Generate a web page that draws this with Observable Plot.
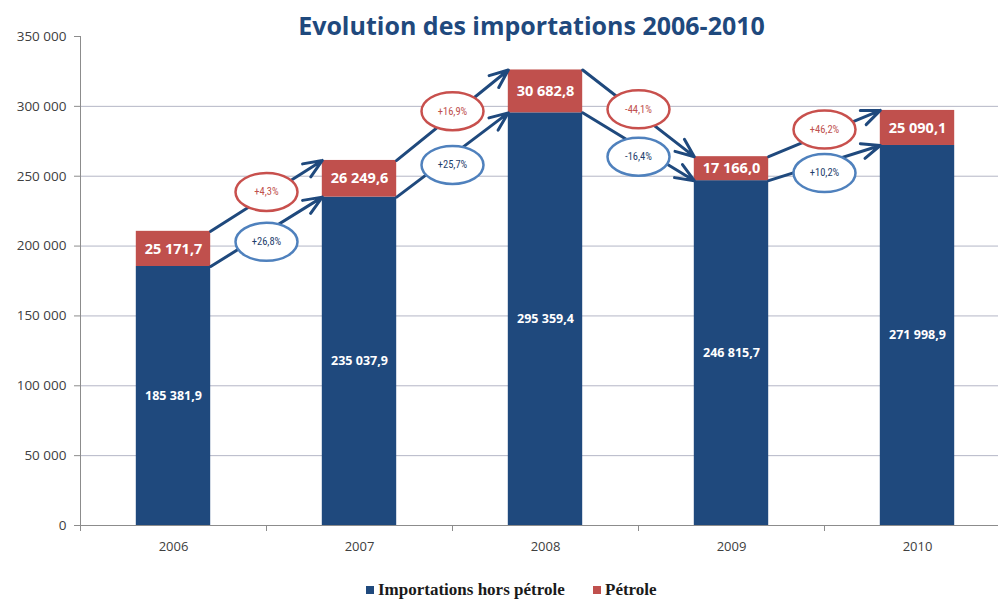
<!DOCTYPE html>
<html>
<head>
<meta charset="utf-8">
<script src="https://cdn.jsdelivr.net/npm/d3@7"></script>
<script src="https://cdn.jsdelivr.net/npm/@observablehq/plot@0.6"></script>
<style>
  html, body { margin: 0; padding: 0; background: #fff; }
  #chart { width: 998px; height: 599px; position: relative; overflow: hidden; }
  #legend { position: relative; height: 29px; font-family: "Liberation Serif", serif; font-weight: bold; font-size: 17px; color: #1a1a1a; }
  .item { position: absolute; top: 10px; white-space: nowrap; }
  .sw { display: inline-block; width: 8px; height: 8px; margin-right: 4px; vertical-align: 1px; }
</style>
</head>
<body>
<div id="chart"></div>
<script>
const title = "Evolution des importations 2006-2010";
const years = [2006, 2007, 2008, 2009, 2010];
const horsPetrole = [185381.9, 235037.9, 295359.4, 246815.7, 271998.9];
const petrole = [25171.7, 26249.6, 30682.8, 17166.0, 25090.1];
const petroleChange = ["+4,3%", "+16,9%", "-44,1%", "+46,2%"];
const horsPetroleChange = ["+26,8%", "+25,7%", "-16,4%", "+10,2%"];
const yTicks = [0, 50000, 100000, 150000, 200000, 250000, 300000, 350000];
const seriesNames = ["Importations hors pétrole", "Pétrole"];
const colors = ["#1F497D", "#C0504D"];

const loc = d3.formatLocale({decimal: ",", thousands: "\u00a0", grouping: [3], currency: ["", ""]});
const fmtAxis = loc.format(",.0f");
const fmtVal = loc.format(",.1f");

const rows = years.map((year, i) => ({year, hp: horsPetrole[i], p: petrole[i], total: horsPetrole[i] + petrole[i]}));
const pairs = years.slice(0, -1).map((year, i) => ({
  from: year, to: years[i + 1],
  hp1: horsPetrole[i], hp2: horsPetrole[i + 1],
  t1: rows[i].total, t2: rows[i + 1].total,
  pLabel: petroleChange[i], hpLabel: horsPetroleChange[i]
}));

const half = 0.2; // half bar width in year units
const ellipse = {draw(ctx) {
  const rx = 31, ry = 19, k = 0.5523;
  ctx.moveTo(rx, 0);
  ctx.bezierCurveTo(rx, ry * k, rx * k, ry, 0, ry);
  ctx.bezierCurveTo(-rx * k, ry, -rx, ry * k, -rx, 0);
  ctx.bezierCurveTo(-rx, -ry * k, -rx * k, -ry, 0, -ry);
  ctx.bezierCurveTo(rx * k, -ry, rx, -ry * k, rx, 0);
  ctx.closePath();
}};
const narrow = "'Liberation Sans Narrow', 'Roboto Condensed', 'DejaVu Sans Condensed', sans-serif";

const chart = Plot.plot({
  width: 998,
  height: 570,
  marginLeft: 80,
  marginRight: 0,
  marginTop: 36,
  marginBottom: 45,
  style: {fontFamily: "'Open Sans', sans-serif", background: "#fff"},
  x: {type: "linear", domain: [2005.5, 2010.5], range: [80, 1010]},
  y: {domain: [0, 350000], range: [525, 36]},
  marks: [
    Plot.gridY(yTicks.filter(t => t > 0 && t < 350000), {stroke: "#b4b6c6", strokeOpacity: 1, strokeWidth: 1}),
    Plot.axisY({ticks: yTicks, tickFormat: fmtAxis, tickSize: 6, tickPadding: 8, fontSize: 13.5, stroke: "#8c8c8c", fill: "#404040", label: null}),
    Plot.axisX({ticks: years.map(y => y - 0.5), tickFormat: () => "", tickSize: 6, stroke: "#8c8c8c", label: null}),
    Plot.axisX({ticks: years, tickFormat: d => String(d), tickSize: 0, tickPadding: 16, fontSize: 13, fill: "#404040", label: null}),
    Plot.frame({anchor: "left", stroke: "#8c8c8c"}),
    Plot.ruleY([0], {stroke: "#8c8c8c"}),
    Plot.rectY(rows, {x1: d => d.year - half, x2: d => d.year + half, y1: 0, y2: "hp", fill: colors[0]}),
    Plot.rectY(rows, {x1: d => d.year - half, x2: d => d.year + half, y1: "hp", y2: "total", fill: colors[1]}),
    Plot.text(rows, {x: "year", y: d => d.hp / 2, text: d => fmtVal(d.hp), fill: "white", fontWeight: "bold", fontSize: 12.5}),
    Plot.text(rows, {x: "year", y: d => d.hp + d.p / 2, text: d => fmtVal(d.p), fill: "white", fontWeight: "bold", fontSize: 14.5}),
    Plot.arrow(pairs, {x1: d => d.from + half, y1: "t1", x2: d => d.to - half, y2: "t2", stroke: colors[0], strokeWidth: 3, headLength: 10, headAngle: 45, bend: 0}),
    Plot.arrow(pairs, {x1: d => d.from + half, y1: "hp1", x2: d => d.to - half, y2: "hp2", stroke: colors[0], strokeWidth: 3, headLength: 10, headAngle: 45, bend: 0}),
    Plot.dot(pairs, {x: d => (d.from + d.to) / 2, y: d => (d.t1 + d.t2) / 2, dy: -4, symbol: ellipse, fill: "white", stroke: "#C8504D", strokeWidth: 2.5}),
    Plot.dot(pairs, {x: d => (d.from + d.to) / 2, y: d => (d.hp1 + d.hp2) / 2, dy: 10, symbol: ellipse, fill: "white", stroke: "#4F81BD", strokeWidth: 2.5}),
    Plot.text(pairs, {x: d => (d.from + d.to) / 2, y: d => (d.t1 + d.t2) / 2, dy: -4, text: "pLabel", fill: "#C0504D", fontSize: 10.5, fontFamily: narrow}),
    Plot.text(pairs, {x: d => (d.from + d.to) / 2, y: d => (d.hp1 + d.hp2) / 2, dy: 10, text: "hpLabel", fill: "#1F3F6D", fontSize: 10.5, fontFamily: narrow}),
    Plot.text([title], {frameAnchor: "top", dx: -8, dy: -2, lineAnchor: "bottom", fontSize: 25, fontWeight: "bold", fill: "#1F497D"})
  ]
});

const root = document.getElementById("chart");
root.appendChild(chart);
const legend = document.createElement("div");
legend.id = "legend";
const lefts = [366, 593];
seriesNames.forEach((name, i) => {
  const it = document.createElement("span");
  it.className = "item";
  it.style.left = lefts[i] + "px";
  const sw = document.createElement("span");
  sw.className = "sw";
  sw.style.background = colors[i];
  it.appendChild(sw);
  it.appendChild(document.createTextNode(name));
  legend.appendChild(it);
});
root.appendChild(legend);
</script>
</body>
</html>
